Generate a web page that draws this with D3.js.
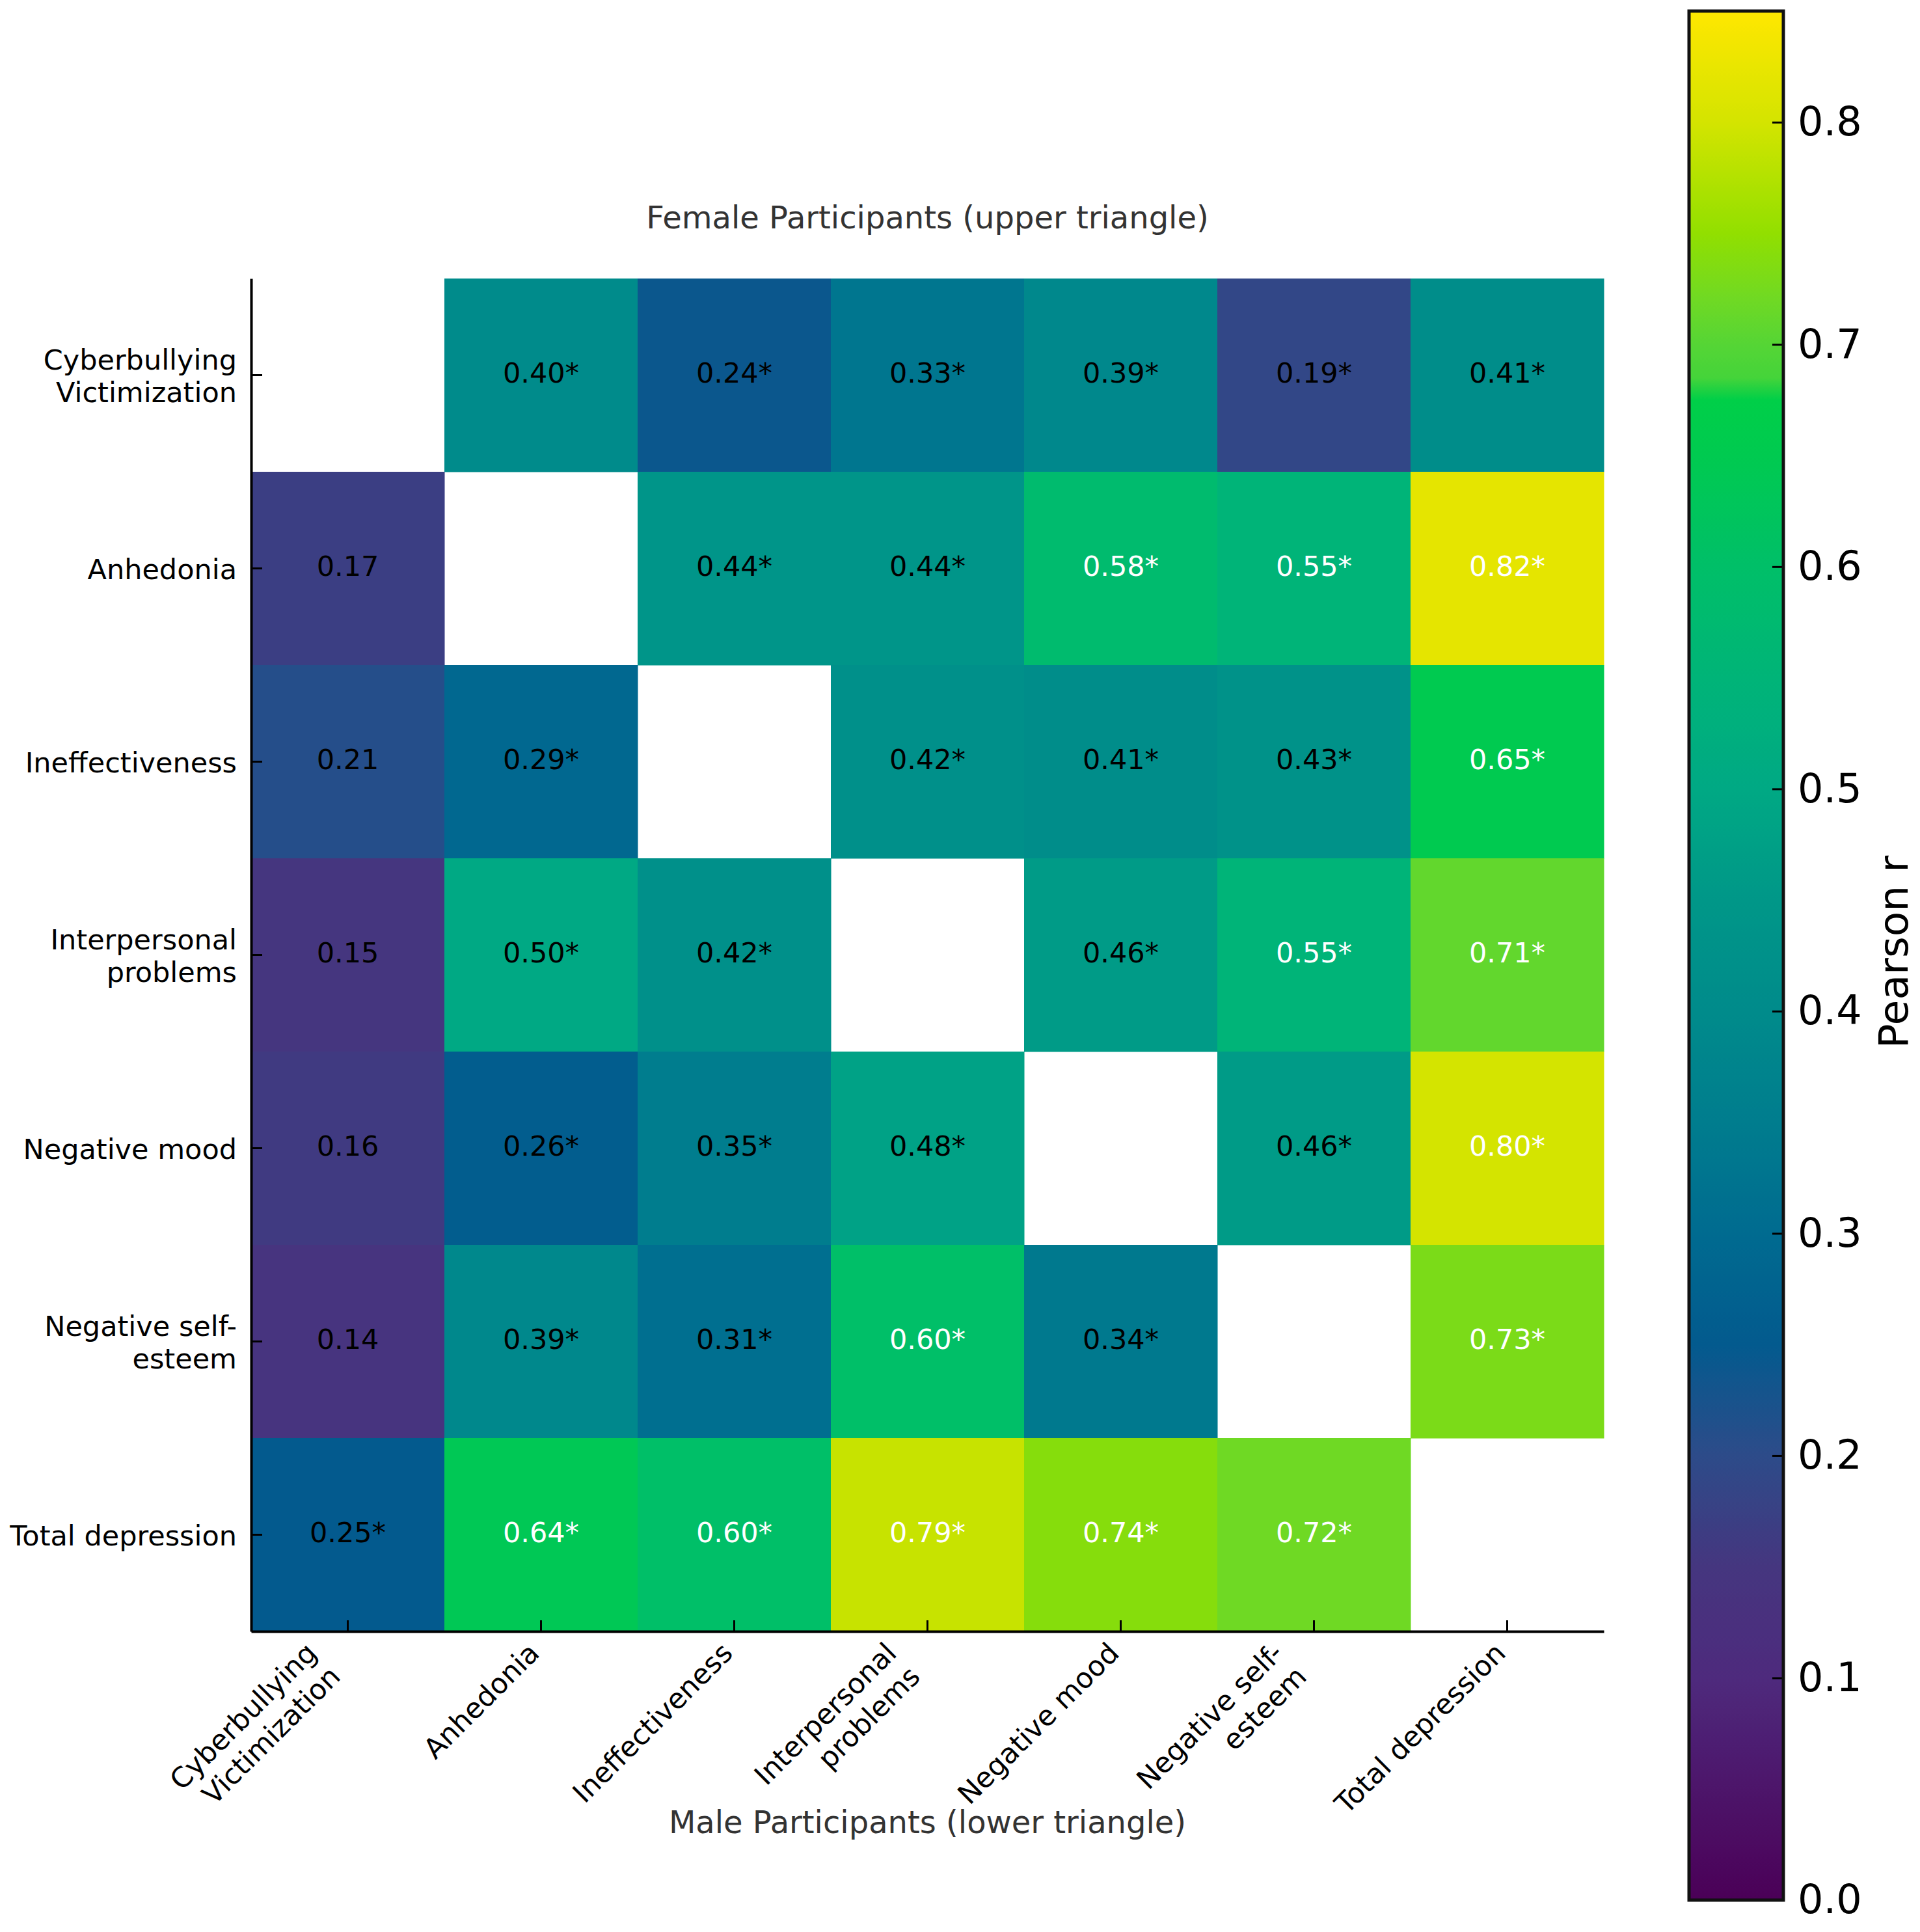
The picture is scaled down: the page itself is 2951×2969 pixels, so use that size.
<!DOCTYPE html>
<html lang="en">
<head>
<meta charset="UTF-8">
<title>Correlation heatmap</title>
<script src="https://cdn.jsdelivr.net/npm/d3@7"></script>
<style>
    body { margin: 0; background: #ffffff; }
    text { font-family: "DejaVu Sans", sans-serif; }
</style>
</head>
<body>
<div id="chart"></div>
<script>
    // variable names (\n = line break in the tick label)
    const variables = ["Cyberbullying\nVictimization", "Anhedonia", "Ineffectiveness",
        "Interpersonal\nproblems", "Negative mood", "Negative self-\nesteem", "Total depression"];

    // male participants, lower triangle: maleR[i][j] for j < i
    const maleR = [
        [],
        [0.17],
        [0.21, 0.29],
        [0.15, 0.50, 0.42],
        [0.16, 0.26, 0.35, 0.48],
        [0.14, 0.39, 0.31, 0.60, 0.34],
        [0.25, 0.64, 0.60, 0.79, 0.74, 0.72]
    ];
    const maleSig = [
        [],
        [0],
        [0, 1],
        [0, 1, 1],
        [0, 1, 1, 1],
        [0, 1, 1, 1, 1],
        [1, 1, 1, 1, 1, 1]
    ];

    // female participants, upper triangle: femaleR[i][k] is column i + 1 + k
    const femaleR = [
        [0.40, 0.24, 0.33, 0.39, 0.19, 0.41],
        [0.44, 0.44, 0.58, 0.55, 0.82],
        [0.42, 0.41, 0.43, 0.65],
        [0.46, 0.55, 0.71],
        [0.46, 0.80],
        [0.73],
        []
    ];
    const femaleSig = [
        [1, 1, 1, 1, 1, 1],
        [1, 1, 1, 1, 1],
        [1, 1, 1, 1],
        [1, 1, 1],
        [1, 1],
        [1],
        []
    ];

    const colorTicks = [0.0, 0.1, 0.2, 0.3, 0.4, 0.5, 0.6, 0.7, 0.8];
    const colorMax = 0.85;

    // colour map
    const cmapStops = [0.00, 0.10, 0.15, 0.20, 0.25, 0.30, 0.35, 0.40, 0.45, 0.50, 0.55, 0.60, 0.65, 0.675, 0.685, 0.70, 0.72, 0.75, 0.80, 0.85];
    const cmapColors = ["#4b0057", "#4e2a7d", "#45367f", "#2d4b89", "#035a8e", "#006b90", "#007d8e",
        "#008b8b", "#009788", "#00a984", "#00b478", "#00bf68", "#00ca50", "#00cf48", "#45d43a",
        "#55d535", "#6fd924", "#92df00", "#d4e400", "#ffe700"];

    const W = 2951, H = 2969;
    const svg = d3.select("#chart")
        .append("svg")
        .attr("width", W)
        .attr("height", H)
        .attr("viewBox", `0 0 ${W} ${H}`)
        .style("background-color", "#ffffff");

    const plotLeft = 386, plotTop = 428, side = 2079;
    const fs = 43;

    const idx = d3.range(variables.length);
    const x = d3.scaleBand().domain(idx).range([plotLeft, plotLeft + side]);
    const y = d3.scaleBand().domain(idx).range([plotTop, plotTop + side]);

    const color = d3.scaleLinear()
        .domain(cmapStops)
        .range(cmapColors)
        .interpolate(d3.interpolateRgb)
        .clamp(true);

    // build the cells
    let cells = [];
    idx.forEach(i => {
        maleR[i].forEach((r, j) => cells.push({row: i, col: j, r: r, sig: maleSig[i][j]}));
        femaleR[i].forEach((r, k) => cells.push({row: i, col: i + 1 + k, r: r, sig: femaleSig[i][k]}));
    });

    svg.append("g")
        .selectAll("rect")
        .data(cells)
        .join("rect")
        .attr("x", d => x(d.col))
        .attr("y", d => y(d.row))
        .attr("width", x.bandwidth() + 0.5)
        .attr("height", y.bandwidth() + 0.5)
        .attr("fill", d => color(d.r));

    svg.append("g")
        .selectAll("text")
        .data(cells)
        .join("text")
        .attr("x", d => x(d.col) + x.bandwidth() / 2)
        .attr("y", d => y(d.row) + y.bandwidth() / 2)
        .attr("dy", "0.27em")
        .attr("text-anchor", "middle")
        .attr("font-size", fs)
        .attr("fill", d => d.r > 0.52 ? "#ffffff" : "#000000")
        .text(d => d.r.toFixed(2) + (d.sig ? "*" : ""));

    // left axis
    const yAxis = svg.append("g")
        .attr("transform", `translate(${plotLeft},0)`)
        .call(d3.axisLeft(y).tickSizeInner(-17).tickSizeOuter(0).tickPadding(22)
            .tickFormat(i => variables[i]));
    yAxis.select(".domain").attr("stroke", "#000").attr("stroke-width", 4);
    yAxis.selectAll(".tick line").attr("stroke", "#000").attr("stroke-width", 3);
    yAxis.selectAll(".tick text")
        .attr("font-size", fs)
        .attr("fill", "#000")
        .attr("font-family", "DejaVu Sans")
        .attr("dy", null)
        .each(function(i) {
            const lines = variables[i].split("\n");
            const t = d3.select(this).text(null);
            lines.forEach((ln, k) => {
                t.append("tspan")
                    .attr("x", -22)
                    .attr("y", 16 + (k - (lines.length - 1) / 2) * 50)
                    .text(ln);
            });
        });

    // bottom axis
    const xAxis = svg.append("g")
        .attr("transform", `translate(0,${plotTop + side})`)
        .call(d3.axisBottom(x).tickSizeInner(-17).tickSizeOuter(0)
            .tickFormat(i => variables[i]));
    xAxis.select(".domain").attr("stroke", "#000").attr("stroke-width", 4);
    xAxis.selectAll(".tick line").attr("stroke", "#000").attr("stroke-width", 3);
    xAxis.selectAll(".tick text")
        .attr("font-size", fs)
        .attr("fill", "#000")
        .attr("font-family", "DejaVu Sans")
        .attr("text-anchor", "end")
        .attr("dy", null)
        .attr("y", null)
        .each(function(i) {
            const lines = variables[i].split("\n");
            const t = d3.select(this).text(null)
                .attr("transform", `translate(${0 - 45 * (lines.length - 1)},36) rotate(-45)`);
            lines.forEach((ln, k) => {
                t.append("tspan")
                    .attr("x", 0)
                    .attr("y", k * 51)
                    .text(ln);
            });
        });

    // titles
    svg.append("text")
        .attr("x", plotLeft + side / 2)
        .attr("y", 351)
        .attr("text-anchor", "middle")
        .attr("font-size", 48)
        .attr("fill", "#333")
        .text("Female Participants (upper triangle)");

    svg.append("text")
        .attr("x", plotLeft + side / 2)
        .attr("y", 2817)
        .attr("text-anchor", "middle")
        .attr("font-size", 48)
        .attr("fill", "#333")
        .text("Male Participants (lower triangle)");

    // colour bar
    const cbX = 2596, cbW = 145;
    const cbY = d3.scaleLinear().domain([0, colorMax]).range([2920, 17]);

    const grad = svg.append("defs").append("linearGradient")
        .attr("id", "cbar")
        .attr("x1", 0).attr("y1", 1).attr("x2", 0).attr("y2", 0);
    grad.selectAll("stop")
        .data(d3.range(0, 171).map(k => k * colorMax / 170))
        .join("stop")
        .attr("offset", d => d / colorMax)
        .attr("stop-color", d => color(d));

    svg.append("rect")
        .attr("x", cbX)
        .attr("y", cbY(colorMax))
        .attr("width", cbW)
        .attr("height", cbY(0) - cbY(colorMax))
        .attr("fill", "url(#cbar)");

    const cAxis = svg.append("g")
        .attr("transform", `translate(${cbX + cbW},0)`)
        .call(d3.axisRight(cbY).tickValues(colorTicks).tickSizeInner(-17).tickSizeOuter(0)
            .tickPadding(22).tickFormat(d3.format(".1f")));
    cAxis.select(".domain").remove();
    cAxis.selectAll(".tick line").attr("stroke", "#000").attr("stroke-width", 3);
    cAxis.selectAll(".tick text")
        .attr("font-size", 62)
        .attr("fill", "#000")
        .attr("font-family", "DejaVu Sans");

    svg.append("rect")
        .attr("x", cbX)
        .attr("y", cbY(colorMax))
        .attr("width", cbW)
        .attr("height", cbY(0) - cbY(colorMax))
        .attr("fill", "none")
        .attr("stroke", "#111")
        .attr("stroke-width", 5);

    svg.append("text")
        .attr("transform", "translate(2932,1463) rotate(-90)")
        .attr("text-anchor", "middle")
        .attr("font-size", 63)
        .attr("fill", "#000")
        .text("Pearson r");
</script>
</body>
</html>
